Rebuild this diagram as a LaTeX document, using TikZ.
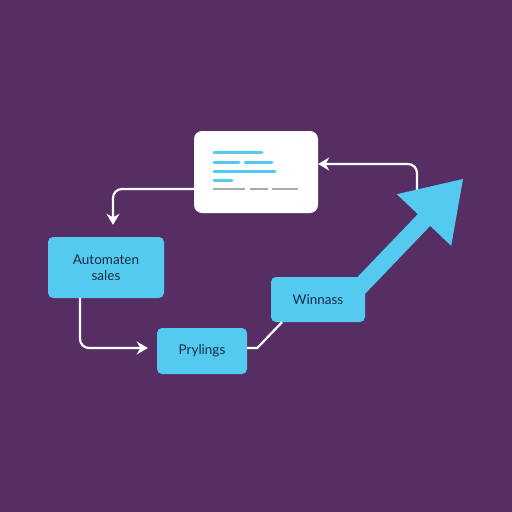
\documentclass[tikz,border=0pt]{standalone}
\usepackage{fontspec}
\setmainfont{Lato}
\usetikzlibrary{arrows.meta,calc}
\definecolor{bgpurple}{RGB}{86,46,100}
\definecolor{skycyan}{RGB}{84,202,240}
\definecolor{inktext}{RGB}{22,44,70}
\definecolor{dashgray}{RGB}{170,170,178}
\tikzset{
  cbox/.style={draw=none, fill=skycyan, rounded corners=5pt, text=inktext,
    font=\fontsize{13.5}{16}\selectfont, align=center, inner sep=0pt},
  wbox/.style={draw=none, fill=white, rounded corners=8pt, inner sep=0pt},
  conn/.style={draw=white, line width=2.2pt, rounded corners=9pt,
    -{Stealth[length=11pt,width=13pt,inset=3.5pt]}},
  plainconn/.style={draw=white, line width=2.2pt},
  docline/.style={draw=skycyan, line width=3pt, line cap=round},
  grayline/.style={draw=dashgray, line width=2.6pt},
}
\begin{document}
\begin{tikzpicture}[x=1pt,y=-1pt]
\fill[bgpurple] (0,0) rectangle (512,512);
\useasboundingbox (0,0) rectangle (512,512);

% nodes
\node[wbox, minimum width=124pt, minimum height=82pt] (doc) at (256,172) {};
\node[cbox, minimum width=116pt, minimum height=61pt] (auto) at (106,267.5) {Automaten\\sales};
\node[cbox, minimum width=90pt, minimum height=46pt] (pry) at (202,351) {Prylings};

% document lines
\draw[docline] (214,152) -- (262,152);
\draw[docline] (214,162) -- (239,162);
\draw[docline] (245,162) -- (272,162);
\draw[docline] (214,171) -- (275,171);
\draw[docline] (214,180) -- (232,180);
\draw[grayline] (213,189) -- (245,189);
\draw[grayline] (250,189) -- (268,189);
\draw[grayline] (272,189) -- (298,189);

% connector from growth arrow back to document
\coordinate (ret) at (417,196);
\draw[conn] (ret) |- ([yshift=8pt]doc.east);

% big growth arrow
\fill[skycyan] (348.8,286.1) -- (417.8,214.1) -- (396.8,194.2) -- (463,179)
  -- (451.2,245.8) -- (430.2,225.9) -- (361.2,297.9) -- cycle;

\node[cbox, minimum width=94pt, minimum height=45pt] (win) at (318,299.5) {Winnass};

% connectors
\draw[conn] ([yshift=-17pt]doc.west) -| ([xshift=7pt,yshift=12pt]auto.north);
\draw[conn] ([xshift=-26pt]auto.south) |- ([xshift=-9pt,yshift=3pt]pry.west);
\draw[plainconn] ([yshift=3pt]pry.east) -- ++(10,0) -- ([xshift=-36pt]win.south);
\end{tikzpicture}
\end{document}
